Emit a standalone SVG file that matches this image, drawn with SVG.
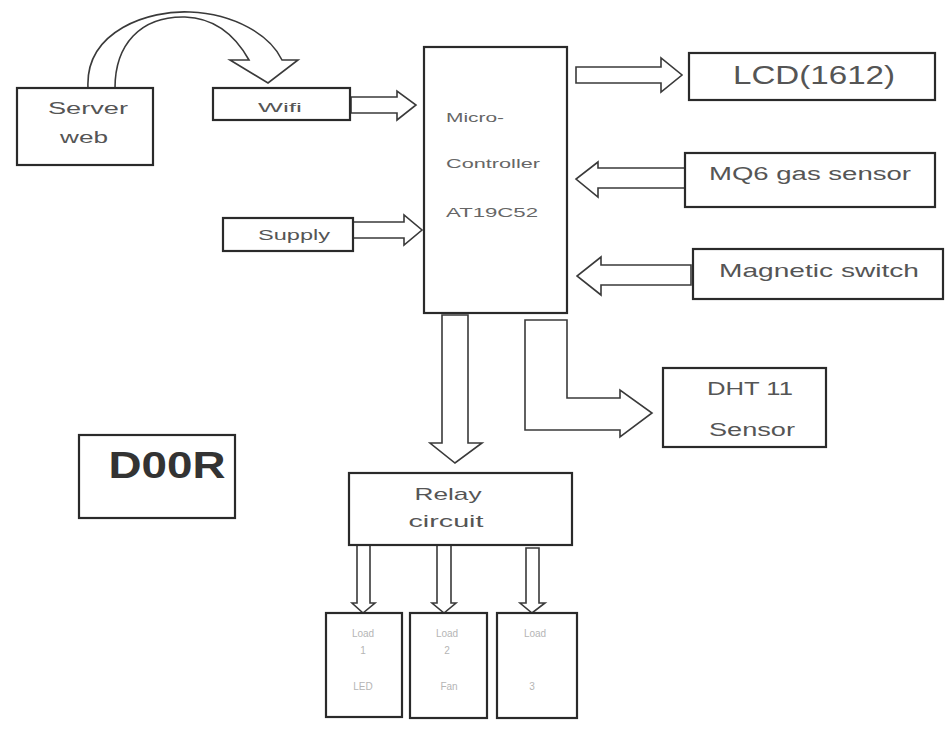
<svg xmlns="http://www.w3.org/2000/svg" width="946" height="731" viewBox="0 0 946 731">
<style>
.box{fill:#fff;stroke:#2a2a2a;stroke-width:2.2}
.arr{fill:#fff;stroke:#3a3a3a;stroke-width:1.6;stroke-linejoin:miter}
.t{font-family:"Liberation Sans",Arial,sans-serif;fill:#555;text-anchor:middle}
.tl{font-family:"Liberation Sans",Arial,sans-serif;fill:#666}
.f{font-family:"Liberation Sans",Arial,sans-serif;fill:#b5b5b5;text-anchor:middle;font-size:10px}
</style>
<rect width="946" height="731" fill="#fff"/>
<g id="connectors">
<path class="arr" d="M88 88 C85 30,150 10,190 12 C235 14,270 35,282 60 L298 60 L268 83 L230 60 L249 60 C235 35,215 18,185 17 C140 16,115 45,115 88 Z"/>
<path class="arr" d="M351 97 L397 97 L397 91 L416 105 L397 120 L397 113 L351 113 Z"/>
<path class="arr" d="M353 222 L404 222 L404 215 L422 230 L404 245 L404 238 L353 238 Z"/>
<path class="arr" d="M576 67 L661 67 L661 58 L682 75 L661 92 L661 83 L576 83 Z"/>
<path class="arr" d="M685 168 L598 168 L598 162 L576 179 L598 197 L598 188 L685 188 Z"/>
<path class="arr" d="M691 265 L601 265 L601 257 L577 276 L601 295 L601 285 L691 285 Z"/>
<path class="arr" d="M442 315 L468 315 L468 443 L482 443 L455 463 L430 443 L442 443 Z"/>
<path class="arr" d="M525 320 L567 320 L567 398 L620 398 L620 390 L652 413 L620 437 L620 430 L525 430 Z"/>
<path class="arr" d="M357 545 L370 545 L370 603 L375 603 L363 613 L352 603 L357 603 Z"/>
<path class="arr" d="M437 545 L451 545 L451 603 L456 603 L444 613 L432 603 L437 603 Z"/>
<path class="arr" d="M526 548 L539 548 L539 603 L545 603 L532 613 L520 603 L526 603 Z"/>
</g>
<g id="server">
<rect class="box" x="17" y="88" width="136" height="77"/>
<text class="t" x="88" y="114" font-size="16" textLength="80" lengthAdjust="spacingAndGlyphs">Server</text>
<text class="t" x="84" y="143" font-size="16" textLength="48" lengthAdjust="spacingAndGlyphs">web</text>
</g>
<g id="wifi">
<rect class="box" x="213" y="88" width="137" height="32"/>
<text class="t" x="280" y="112" font-size="13" textLength="44" lengthAdjust="spacingAndGlyphs">Wifi</text>
</g>
<g id="supply">
<rect class="box" x="223" y="218" width="130" height="33"/>
<text class="t" x="294" y="240" font-size="15" textLength="72" lengthAdjust="spacingAndGlyphs">Supply</text>
</g>
<g id="micro">
<rect class="box" x="424" y="47" width="143" height="266"/>
<text class="tl" x="446" y="122" font-size="12" textLength="58" lengthAdjust="spacingAndGlyphs">Micro-</text>
<text class="tl" x="446" y="168" font-size="12" textLength="94" lengthAdjust="spacingAndGlyphs">Controller</text>
<text class="tl" x="446" y="217" font-size="13" textLength="92" lengthAdjust="spacingAndGlyphs">AT19C52</text>
</g>
<g id="lcd">
<rect class="box" x="689" y="53" width="246" height="47"/>
<text class="t" x="814" y="84" font-size="25" textLength="162" lengthAdjust="spacingAndGlyphs">LCD(1612)</text>
</g>
<g id="mq6">
<rect class="box" x="685" y="153" width="250" height="54"/>
<text class="t" x="810" y="180" font-size="18" textLength="202" lengthAdjust="spacingAndGlyphs">MQ6 gas sensor</text>
</g>
<g id="magnetic">
<rect class="box" x="693" y="249" width="250" height="50"/>
<text class="t" x="819" y="277" font-size="19" textLength="200" lengthAdjust="spacingAndGlyphs">Magnetic switch</text>
</g>
<g id="dht">
<rect class="box" x="663" y="368" width="163" height="79"/>
<text class="t" x="750" y="395" font-size="18" textLength="86" lengthAdjust="spacingAndGlyphs">DHT 11</text>
<text class="t" x="752" y="436" font-size="18" textLength="86" lengthAdjust="spacingAndGlyphs">Sensor</text>
</g>
<g id="door">
<rect class="box" x="79" y="435" width="156" height="83"/>
<text x="167" y="478" font-family="Liberation Sans,Arial,sans-serif" font-weight="bold" font-size="36" fill="#333" text-anchor="middle" textLength="117" lengthAdjust="spacingAndGlyphs">D00R</text>
</g>
<g id="relay">
<rect class="box" x="349" y="473" width="223" height="72"/>
<text class="t" x="448" y="500" font-size="17" textLength="67" lengthAdjust="spacingAndGlyphs">Relay</text>
<text class="t" x="446" y="527" font-size="17" textLength="75" lengthAdjust="spacingAndGlyphs">circuit</text>
</g>
<g id="load1">
<rect class="box" x="326" y="613" width="76" height="104"/>
<text class="f" x="363" y="637">Load</text>
<text class="f" x="363" y="654">1</text>
<text class="f" x="363" y="690">LED</text>
</g>
<g id="load2">
<rect class="box" x="410" y="613" width="77" height="105"/>
<text class="f" x="447" y="637">Load</text>
<text class="f" x="447" y="654">2</text>
<text class="f" x="449" y="690">Fan</text>
</g>
<g id="load3">
<rect class="box" x="497" y="613" width="80" height="105"/>
<text class="f" x="535" y="637">Load</text>
<text class="f" x="532" y="690">3</text>
</g>
</svg>
